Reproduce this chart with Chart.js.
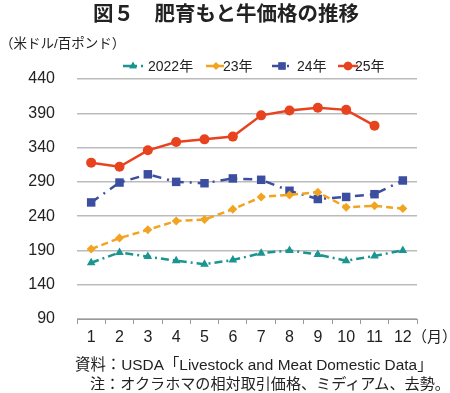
<!DOCTYPE html>
<html><head><meta charset="utf-8">
<script src="https://cdn.jsdelivr.net/npm/chart.js@4"></script>
<style>
html,body{margin:0;padding:0;background:#fff;}
#wrap{position:relative;width:450px;height:393px;overflow:hidden;font-family:"Liberation Sans","Noto Sans CJK JP",sans-serif;color:#222;}
canvas{position:absolute;left:0;top:0;}
.t{position:absolute;white-space:nowrap;line-height:1;}
</style></head><body>
<div id="wrap">
<canvas id="c" width="450" height="393"></canvas>
<div class="t" style="left:0;width:452px;text-align:center;top:2px;font-size:20.5px;font-weight:bold;font-family:'Noto Sans CJK JP',sans-serif;">図５　肥育もと牛価格の推移</div>
<div class="t" style="left:0;top:37px;font-size:13.5px;">（米ドル/百ポンド）</div>
<div class="t" style="left:412px;top:329px;font-size:15px;">（月）</div>
<div class="t" style="left:75px;top:357px;font-size:15.4px;">資料：USDA「Livestock and Meat Domestic Data」</div>
<div class="t" style="left:90px;top:376px;font-size:15.1px;">注：オクラホマの相対取引価格、ミディアム、去勢。</div>
</div>
<script>
const months = ['1','2','3','4','5','6','7','8','9','10','11','12'];
const seriesNames = ['2022年','23年','24年','25年'];
const y2022 = [172,187,181,175,170,176,186,190,184,175,182,190];
const y2023 = [192,208,220,233,235,250,268,271,275,253,255,251];
const y2024 = [260,289,301,290,288,295,293,277,265,268,272,292];
const y2025 = [318,312,336,348,352,356,387,394,398,395,372,null];
const yTicks = [90,140,190,240,290,340,390,440];

const colors = ['#1b9590','#f2a421','#3b4ea0','#e8431f'];
const dashes = [[8,4,2,4],[7,4],[9,6,2,6],[]];
const pstyles = ['triangle','rectRot','rect','circle'];
const pradius = [5,4.5,6,5];
const allData = [y2022,y2023,y2024,y2025];

const legendPos = [[123,148],[206,223],[272,297],[338,355]];

const legendPlugin = {
  id:'customLegend',
  afterDraw(chart){
    const ctx = chart.ctx;
    const y = 66;
    seriesNames.forEach((name,i)=>{
      const ds = chart.data.datasets.find(d=>d.label===name);
      const [x0,tx] = legendPos[i];
      ctx.save();
      ctx.strokeStyle = ds.borderColor;
      ctx.lineWidth = 2.5;
      ctx.setLineDash(ds.borderDash);
      ctx.beginPath(); ctx.moveTo(x0,y); ctx.lineTo(x0+20,y); ctx.stroke();
      ctx.setLineDash([]);
      ctx.fillStyle = ds.borderColor;
      Chart.helpers.drawPoint(ctx,{pointStyle:ds.pointStyle,radius:ds.pointRadius*0.85,borderWidth:0},x0+10,y);
      ctx.fill();
      ctx.fillStyle = '#222';
      ctx.font = "14px 'Liberation Sans','Noto Sans CJK JP'";
      ctx.textBaseline = 'middle';
      ctx.fillText(name, tx, y+1);
      ctx.restore();
    });
  }
};

new Chart(document.getElementById('c'),{
  type:'line',
  data:{
    labels:months,
    datasets: allData.map((d,i)=>({
      label:seriesNames[i], data:d,
      borderColor:colors[i], backgroundColor:colors[i],
      pointBackgroundColor:colors[i], pointBorderColor:colors[i],
      borderWidth:2.5, borderDash:dashes[i],
      pointStyle:pstyles[i], pointRadius:pradius[i], pointBorderWidth:0,
      tension:0, fill:false
    }))
  },
  options:{
    responsive:false, animation:false, devicePixelRatio:1,
    layout:{padding:{top:79,right:33,left:0,bottom:0}},
    plugins:{legend:{display:false},title:{display:false},tooltip:{enabled:false}},
    scales:{
      x:{offset:true,
         grid:{offset:true,drawOnChartArea:false,drawTicks:true,tickLength:5,color:'#999',lineWidth:1},
         border:{display:true,color:'#999'},
         ticks:{font:{family:'Liberation Sans',size:16},color:'#222',padding:4,maxRotation:0},
         afterFit(s){s.height=74;}},
      y:{min:90,max:440,
         afterBuildTicks(s){s.ticks = yTicks.map(v=>({value:v}));},
         ticks:{font:{family:'Liberation Sans',size:16},color:'#222',padding:22},
         grid:{color:'#bbb',lineWidth:1.5,drawTicks:false},
         border:{display:false},
         afterFit(s){s.width=77;}}
    }
  },
  plugins:[legendPlugin]
});
</script>
</body></html>
